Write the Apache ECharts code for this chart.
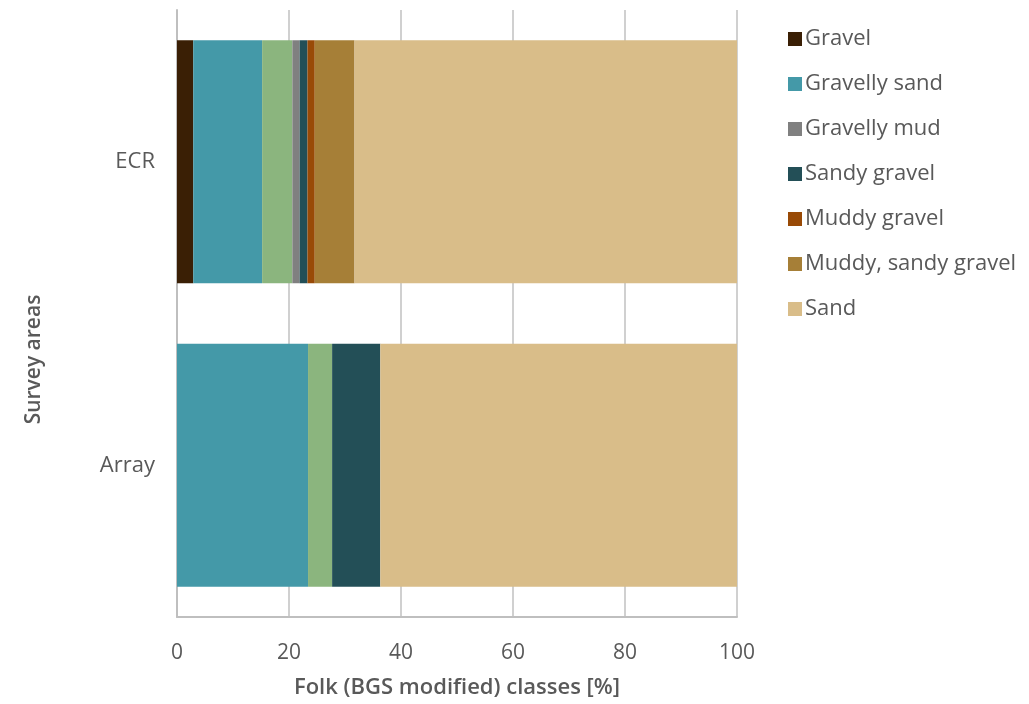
<!DOCTYPE html>
<html>
<head>
<meta charset="utf-8">
<script src="https://cdn.jsdelivr.net/npm/echarts@6/dist/echarts.min.js"></script>
<style>
  html, body { margin: 0; padding: 0; background: #fff; }
  #chart { width: 1029px; height: 704px; }
</style>
</head>
<body>
<div id="chart"></div>
<script>
var myChart = echarts.init(document.getElementById('chart'));

// survey areas (top to bottom)
var areas = ['ECR', 'Array'];

// Folk classes, % per area (ECR, Array)
var classNames = ['Gravel', 'Gravelly sand', 'Gravelly muddy sand', 'Gravelly mud', 'Sandy gravel', 'Muddy gravel', 'Muddy, sandy gravel', 'Sand'];
var gravel = [2.9, 0];
var gravellySand = [12.3, 23.4];
var gravellyMuddySand = [5.4, 4.3];
var gravellyMud = [1.3, 0];
var sandyGravel = [1.4, 8.6];
var muddyGravel = [1.3, 0];
var muddySandyGravel = [7.1, 0];
var sand = [68.3, 63.7];

var values = [gravel, gravellySand, gravellyMuddySand, gravellyMud, sandyGravel, muddyGravel, muddySandyGravel, sand];
var colors = ['#3a1f05', '#4499a8', '#8bb57e', '#808080', '#234f57', '#994a06', '#a67f37', '#d9bd89'];

// legend in the original skips the green class
var legendNames = ['Gravel', 'Gravelly sand', 'Gravelly mud', 'Sandy gravel', 'Muddy gravel', 'Muddy, sandy gravel', 'Sand'];

var textColor = '#595959';
var fontFamily = '"Open Sans", "Noto Sans", sans-serif';

var series = [];
for (var i = 0; i < classNames.length; i++) {
    series.push({
        name: classNames[i],
        type: 'bar',
        stack: 'total',
        barCategoryGap: '20%',
        itemStyle: { color: colors[i] },
        data: values[i]
    });
}

option = {
    backgroundColor: '#fff',
    animation: false,
    textStyle: { fontFamily: fontFamily },
    legend: {
        orient: 'vertical',
        left: 783,
        top: 23,
        itemWidth: 14,
        itemHeight: 14,
        itemGap: 23,
        icon: 'rect',
        data: legendNames,
        textStyle: { color: textColor, fontSize: 22, lineHeight: 21, fontFamily: fontFamily, padding: [0, 0, 0, -2] }
    },
    grid: {
        left: 177,
        right: 292,
        top: 10,
        bottom: 84
    },
    xAxis: {
        type: 'value',
        min: 0,
        max: 100,
        interval: 20,
        name: 'Folk (BGS modified) classes [%]',
        nameLocation: 'middle',
        nameGap: 60,
        nameTextStyle: { color: textColor, fontSize: 22, fontWeight: 600, fontFamily: fontFamily },
        axisLine: { show: true, lineStyle: { color: '#bfbfbf', width: 2 } },
        axisTick: { show: false },
        axisLabel: { color: textColor, fontSize: 21, margin: 26, fontFamily: fontFamily },
        splitLine: { show: true, lineStyle: { color: '#d0d0d0', width: 2 } }
    },
    yAxis: {
        type: 'category',
        inverse: true,
        data: areas,
        name: 'Survey areas',
        nameLocation: 'middle',
        nameRotate: 90,
        nameGap: 132,
        nameTextStyle: { color: textColor, fontSize: 21, fontWeight: 600, fontFamily: fontFamily, padding: [0, 92, 0, 0] },
        axisLine: { show: true, lineStyle: { color: '#bfbfbf', width: 2 } },
        axisTick: { show: false },
        axisLabel: { color: textColor, fontSize: 22, margin: 22, fontFamily: fontFamily }
    },
    series: series
};
myChart.setOption(option);
</script>
</body>
</html>
